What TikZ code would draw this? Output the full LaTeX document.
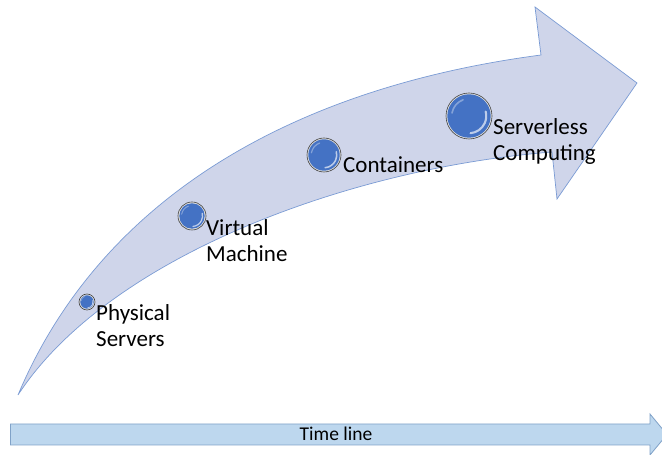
\documentclass[tikz,border=0pt]{standalone}
\usepackage{fontspec}
\setmainfont{Carlito}
\usetikzlibrary{positioning}

\definecolor{bandfill}{RGB}{207,213,234}
\definecolor{bandline}{RGB}{122,155,212}
\definecolor{timefill}{RGB}{189,215,238}
\definecolor{timeedge}{RGB}{128,162,200}
\definecolor{bubbleblue}{RGB}{68,114,196}

\begin{document}
\begin{tikzpicture}[
    x=1pt, y=1pt,
    band/.style={fill=bandfill, draw=bandline, line width=0.7pt, line join=miter},
    timebar/.style={fill=timefill, draw=timeedge, line width=0.8pt},
    bubble/.style={circle, inner sep=0pt, minimum size=2*#1, draw=black!75, line width=0.6pt, fill=black!12,
        path picture={
            \fill[bubbleblue] (path picture bounding box.center) circle[radius=#1-1.3pt];
            \draw[white, opacity=0.65, line width=0.09*#1, line cap=round] (path picture bounding box.center) ++(-85:0.75*#1) arc[start angle=-85, end angle=15, radius=0.75*#1];
            \draw[white, opacity=0.35, line width=0.07*#1, line cap=round] (path picture bounding box.center) ++(110:0.75*#1) arc[start angle=110, end angle=170, radius=0.75*#1];
        }},
    lbl/.style={font=\fontsize{23}{26}\selectfont, inner sep=0pt, align=left, anchor=base west},
    timetext/.style={font=\fontsize{19.5}{22}\selectfont, inner sep=0pt, anchor=base}
]
\clip (0,0) rectangle (662,455);

% Curved arrow
\filldraw[band] (18,60) .. controls (100,255) and (290,367) .. (541,400)
    -- (535,448) -- (637,372) -- (557,256) -- (552,303)
    .. controls (349,287) and (108,198) .. (18,60)
    -- cycle;

% Bubbles
\node[bubble=8pt] (phys) at (87,153) {};
\node[bubble=14pt] (virt) at (192,239) {};
\node[bubble=17pt] (cont) at (324,300) {};
\node[bubble=23pt] (srvl) at (469,339) {};

% Labels (base = last line)
\node[lbl] (phys-l) at (96,108) {Physical\\Servers};
\node[lbl] (virt-l) at (206,193) {Virtual\\Machine};
\node[lbl] (cont-l) at (343,282) {Containers};
\node[lbl] (srvl-l) at (493,294) {Serverless\\Computing};

% Time line
\filldraw[timebar] (10.5,10) -- (650,10) -- (650,0) -- (667,20.5) -- (650,41) -- (650,31) -- (10.5,31) -- cycle;
\node[timetext] (tl) at (336,14.3) {Time line};

\end{tikzpicture}
\end{document}
